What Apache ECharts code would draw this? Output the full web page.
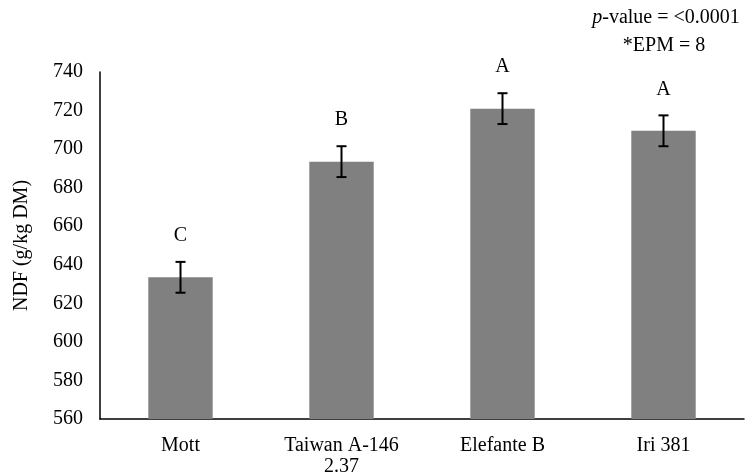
<!DOCTYPE html>
<html>
<head>
<meta charset="utf-8">
<script src="https://cdn.jsdelivr.net/npm/echarts@6/dist/echarts.min.js"></script>
<style>html,body{margin:0;padding:0;background:#fff}#c{width:746px;height:475px}</style>
</head>
<body>
<div id="c"></div>
<script>
const categories = ['Mott', 'Taiwan A-146\n2.37', 'Elefante B', 'Iri 381'];
const means = [633.5, 693.5, 721, 709.5];
const errors = [8, 8, 8, 8];
const letters = ['C', 'B', 'A', 'A'];
const yTicks = { min: 560, max: 740, interval: 20 };

const FONT = '"Liberation Serif", "Times New Roman", serif';
const FS = 20;
const chart = echarts.init(document.getElementById('c'), null, { renderer: 'canvas' });

const errData = means.map((m, i) => [i, m, errors[i]]);

chart.setOption({
  animation: false,
  backgroundColor: '#fff',
  textStyle: { fontFamily: FONT },
  grid: { left: 100, right: 2, top: 72, bottom: 56, containLabel: false, outerBoundsMode: 'none' },
  graphic: [
    {
      type: 'text', x: 666, y: 18,
      style: {
        align: 'center', verticalAlign: 'middle',
        rich: {
          i: { fontFamily: FONT, fontSize: FS, fontStyle: 'italic', fill: '#000' },
          n: { fontFamily: FONT, fontSize: FS, fill: '#000' }
        },
        text: '{i|p}{n|-value = <0.0001}'
      }
    },
    {
      type: 'text', x: 664, y: 46,
      style: { text: '*EPM = 8', fontFamily: FONT, fontSize: FS, fill: '#000', align: 'center', verticalAlign: 'middle' }
    }
  ],
  xAxis: {
    type: 'category',
    data: categories,
    axisLine: { lineStyle: { color: '#000', width: 1.5 } },
    axisTick: { show: false },
    axisLabel: { color: '#000', fontFamily: FONT, fontSize: FS, margin: 16, lineHeight: 21, interval: 0 }
  },
  yAxis: {
    type: 'value',
    min: yTicks.min, max: yTicks.max, interval: yTicks.interval,
    name: 'NDF (g/kg DM)',
    nameLocation: 'middle',
    nameGap: 68,
    nameTextStyle: { color: '#000', fontFamily: FONT, fontSize: FS },
    axisLine: { show: true, lineStyle: { color: '#000', width: 1.5 } },
    axisTick: { show: false },
    splitLine: { show: false },
    axisLabel: { color: '#000', fontFamily: FONT, fontSize: FS, margin: 17 }
  },
  series: [
    {
      type: 'bar',
      data: means,
      barWidth: '40%',
      itemStyle: { color: '#808080' },
      silent: true
    },
    {
      type: 'custom',
      data: errData,
      z: 10,
      silent: true,
      renderItem: function (params, api) {
        const i = api.value(0), m = api.value(1), e = api.value(2);
        const top = api.coord([i, m + e]);
        const bot = api.coord([i, m - e]);
        const hw = 5;
        const st = { stroke: '#000', lineWidth: 2 };
        return {
          type: 'group',
          children: [
            { type: 'line', shape: { x1: top[0], y1: top[1], x2: bot[0], y2: bot[1] }, style: st },
            { type: 'line', shape: { x1: top[0] - hw, y1: top[1], x2: top[0] + hw, y2: top[1] }, style: st },
            { type: 'line', shape: { x1: bot[0] - hw, y1: bot[1], x2: bot[0] + hw, y2: bot[1] }, style: st },
            { type: 'text', x: top[0], y: top[1] - 26,
              style: { text: letters[params.dataIndex], fontFamily: FONT, fontSize: FS, fill: '#000', align: 'center', verticalAlign: 'middle' } }
          ]
        };
      }
    }
  ]
});
</script>
</body>
</html>
